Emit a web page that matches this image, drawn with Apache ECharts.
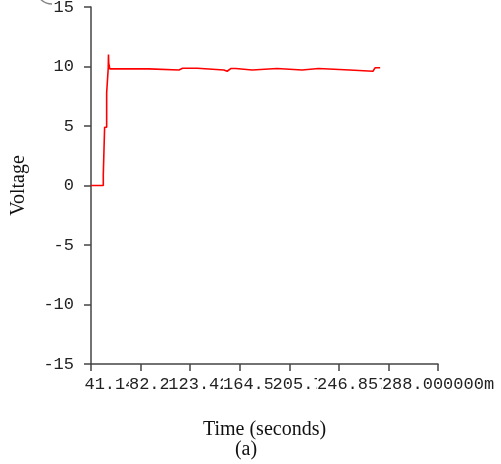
<!DOCTYPE html>
<html>
<head>
<meta charset="utf-8">
<script src="https://cdn.jsdelivr.net/npm/echarts@6/dist/echarts.min.js"></script>
<style>
  html, body { margin: 0; padding: 0; background: #fff; }
  #chart { width: 501px; height: 464px; }
</style>
</head>
<body>
<div id="chart"></div>
<script>
// time samples (seconds) and measured voltage
var timeValues = [0, 10.2, 10.2, 11.3, 11.3, 13.0, 13.0, 14.3, 14.3, 14.5, 14.7, 15.6, 15.6,
  48.0, 49.0, 73.0, 74.0, 76.0, 88.3, 89.3, 110.3, 111.7, 113.0, 116.0, 120.0, 121.4,
  133.8, 134.7, 154.5, 155.8, 175.2, 176.0, 188.9, 190.3, 214.6, 215.8, 234.0, 235.9, 240.0]
var voltageValues = [0, 0, 0.9, 0.9, 4.9, 4.9, 7.8, 7.8, 9.85, 11.0, 10.3, 10.3, 9.8,
  9.8, 9.7, 9.7, 9.55, 9.85, 9.85, 9.7, 9.7, 9.55, 9.6, 9.83, 9.83, 9.7,
  9.7, 9.83, 9.83, 9.7, 9.7, 9.83, 9.83, 9.7, 9.7, 9.6, 9.6, 9.9, 9.9]

// x tick labels as printed by the original plot (they overlap each other)
var xTickLabels = ['', '41.1428571m', '82.28571429m', '123.428571429m', '164.57142857m',
  '205.71428571m', '246.857142857m', '288.000000m']
var timeMax = 288

var seriesData = timeValues.map(function (t, i) { return [t, voltageValues[i]] })

var monoFont = '"Liberation Mono", monospace'
var serifFont = '"Liberation Serif", serif'
var axisColor = '#444'

var chart = echarts.init(document.getElementById('chart'))
var option = {
  animation: false,
  backgroundColor: '#fff',
  grid: { left: 91, right: 63, top: 7, bottom: 100, containLabel: false, outerBoundsMode: 'none' },
  xAxis: [
    {
      // visible tick/label axis, one category per tick
      type: 'category',
      data: xTickLabels,
      boundaryGap: false,
      name: 'Time (seconds)',
      nameLocation: 'middle',
      nameGap: 56,
      nameTextStyle: { fontFamily: serifFont, fontSize: 20, color: '#111' },
      axisLine: { onZero: false, lineStyle: { color: axisColor, width: 1.5 } },
      axisTick: { length: 7, interval: 0, lineStyle: { color: axisColor, width: 1.5 } },
      splitLine: { show: false },
      axisLabel: {
        interval: 0,
        hideOverlap: false,
        margin: 12,
        fontFamily: monoFont,
        fontSize: 17,
        color: '#222',
        backgroundColor: '#fff'
      }
    },
    {
      // time scale the line is plotted on
      type: 'value',
      min: 0,
      max: timeMax,
      show: false
    }
  ],
  yAxis: {
    type: 'value',
    min: -15,
    max: 15,
    interval: 5,
    name: 'Voltage',
    nameLocation: 'middle',
    nameGap: 62,
    nameRotate: 90,
    nameTextStyle: { fontFamily: serifFont, fontSize: 20, color: '#111' },
    axisLine: { show: true, lineStyle: { color: axisColor, width: 1.5 } },
    axisTick: { show: true, length: 7, lineStyle: { color: axisColor, width: 1.5 } },
    splitLine: { show: false },
    axisLabel: {
      margin: 17,
      fontFamily: monoFont,
      fontSize: 17,
      color: '#222'
    }
  },
  graphic: [
    {
      type: 'arc',
      shape: { cx: 52, cy: -12, r: 16, startAngle: Math.PI / 2, endAngle: Math.PI },
      style: { stroke: '#888', lineWidth: 1.5, fill: null }
    },
    {
      type: 'text',
      x: 246,
      y: 450,
      style: {
        text: '(a)',
        font: '20px "Liberation Serif", serif',
        fill: '#111',
        align: 'center',
        verticalAlign: 'middle'
      }
    }
  ],
  series: [
    {
      type: 'line',
      xAxisIndex: 1,
      data: seriesData,
      symbol: 'none',
      lineStyle: { color: '#ff0000', width: 1.6 }
    }
  ]
}
chart.setOption(option)
</script>
</body>
</html>
